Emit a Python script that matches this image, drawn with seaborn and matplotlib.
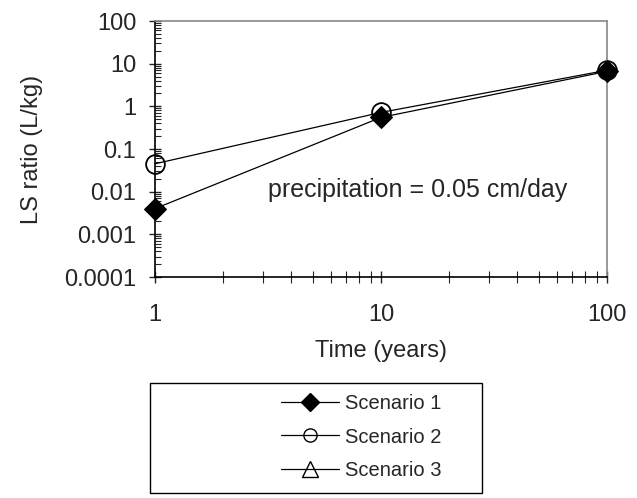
import matplotlib
matplotlib.use("Agg")
import matplotlib.pyplot as plt
import matplotlib.patches as mpatches
from matplotlib.lines import Line2D
from matplotlib.ticker import LogLocator, NullFormatter, FixedLocator, FixedFormatter
import seaborn as sns
import numpy as np
import pandas as pd

# data
time_years = [1, 10, 100]
scenario1 = [0.004, 0.55, 6.6]
scenario2 = [0.045, 0.72, 7.0]
scenario3 = [np.nan, np.nan, np.nan]   # no visible points in the original

sns.set_style("white")
plt.rcParams['font.family'] = ['Liberation Sans', 'DejaVu Sans']
plt.rcParams['font.size'] = 17

fig = plt.figure(figsize=(6.37, 4.98), dpi=100)
ax = fig.add_axes([155 / 637, 1 - 277 / 498, 452 / 637, 256 / 498])

df = pd.DataFrame({"t": time_years, "s1": scenario1, "s2": scenario2, "s3": scenario3})

sns.lineplot(data=df, x="t", y="s1", ax=ax, color="black", lw=0.9,
             marker="D", markersize=11, markerfacecolor="black",
             markeredgecolor="black", zorder=3, clip_on=False)
sns.lineplot(data=df, x="t", y="s2", ax=ax, color="black", lw=0.9,
             marker="o", markersize=13.5, markerfacecolor="none",
             markeredgecolor="black", markeredgewidth=1.3, zorder=2, clip_on=False)
sns.lineplot(data=df, x="t", y="s3", ax=ax, color="black", lw=0.9,
             marker="^", markersize=12, markerfacecolor="none",
             markeredgecolor="black", zorder=1, clip_on=False)

ax.set_xscale("log")
ax.set_yscale("log")
ax.set_xlim(1, 100)
ax.set_ylim(0.0001, 100)

yt = [0.0001, 0.001, 0.01, 0.1, 1, 10, 100]
ax.yaxis.set_major_locator(FixedLocator(yt))
ax.yaxis.set_major_formatter(FixedFormatter(["0.0001", "0.001", "0.01", "0.1", "1", "10", "100"]))
ax.yaxis.set_minor_locator(LogLocator(base=10, subs=np.arange(2, 10), numticks=20))
ax.yaxis.set_minor_formatter(NullFormatter())
xt = [1, 10, 100]
ax.xaxis.set_major_locator(FixedLocator(xt))
ax.xaxis.set_major_formatter(FixedFormatter(["1", "10", "100"]))
ax.xaxis.set_minor_locator(LogLocator(base=10, subs=np.arange(2, 10), numticks=20))
ax.xaxis.set_minor_formatter(NullFormatter())

ax.tick_params(axis="y", which="major", direction="inout", length=9, width=1, left=True, pad=9)
ax.tick_params(axis="y", which="minor", direction="in", length=4, width=0.8, left=True)
ax.tick_params(axis="x", which="major", direction="inout", length=9, width=1, bottom=True, pad=15)
ax.tick_params(axis="x", which="minor", direction="inout", length=9, width=0.8, bottom=True)

for side in ["left", "bottom"]:
    ax.spines[side].set_color("black")
    ax.spines[side].set_linewidth(1.2)
for side in ["top", "right"]:
    ax.spines[side].set_color("#888888")
    ax.spines[side].set_linewidth(1.2)

ax.set_xlabel("Time (years)", labelpad=10)
ax.set_ylabel("LS ratio (L/kg)", labelpad=15)

ax.text(0.58, 0.34, "precipitation = 0.05 cm/day", transform=ax.transAxes,
        ha="center", va="center", fontsize=18)

# legend box below the plot
fig.patches.append(mpatches.Rectangle((150 / 637, 1 - 493 / 498), 332 / 637, 110 / 498,
                                      transform=fig.transFigure, fill=False,
                                      edgecolor="black", lw=1))
labels = ["Scenario 1", "Scenario 2", "Scenario 3"]
h = [Line2D([], [], color="black", lw=0.9, marker="D", markersize=9.5, markerfacecolor="black"),
     Line2D([], [], color="black", lw=0.9, marker="o", markersize=9.5, markerfacecolor="none"),
     Line2D([], [], color="black", lw=0.9, marker="^", markersize=11, markerfacecolor="none")]
fig.legend(h, labels, loc="center left", bbox_to_anchor=(271 / 637, 1 - 437 / 498),
           frameon=False, handlelength=2.9, handletextpad=0.25, labelspacing=0.72,
           fontsize=14.5, borderpad=0)

fig.savefig("out.png", dpi=100)
